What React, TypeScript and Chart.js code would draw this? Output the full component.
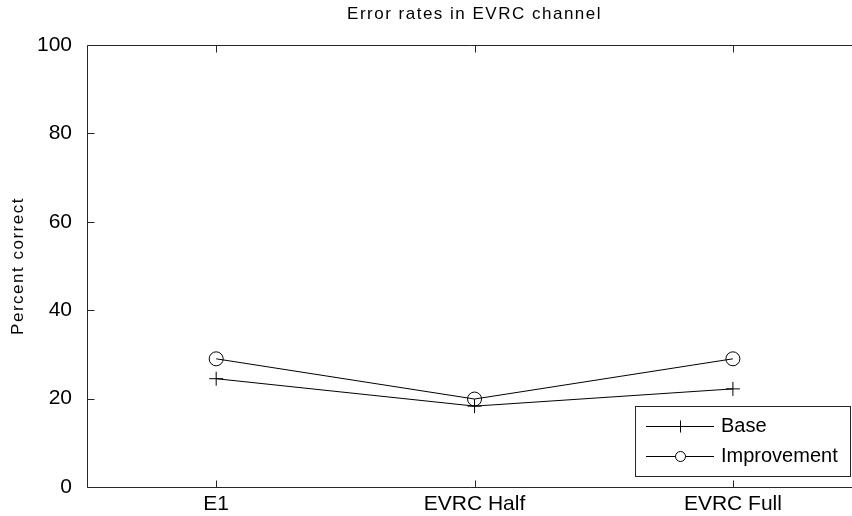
import React, { useEffect, useRef } from "react";
import { Chart, registerables } from "chart.js";

Chart.register(...registerables);

const categories = ["E1", "EVRC Half", "EVRC Full"];
const baseValues = [24.5, 18.3, 22.2];
const improvementValues = [29.0, 19.9, 29.0];
const yTicks = [0, 20, 40, 60, 80, 100];
const seriesLabels = ["Base", "Improvement"];
const titleText = "Error rates in EVRC channel";
const yLabel = "Percent correct";

// axis limits (MATLAB style: 0.5 .. 3.5, right part cropped by the picture edge)
const X_MIN = 0.5;
const X_FULL_MAX = 3.5;
const X_VISIBLE_MAX = 3.461;

const FONT = "'Liberation Sans', Arial, sans-serif";
const AXIS_COLOR = "#262626";

const framePlugin = {
  id: "frame",
  afterDraw(chart: any) {
    const { ctx, chartArea: a, scales } = chart;
    const xs = scales.x;
    const ys = scales.y;
    const L = a.left + 0.5, T = a.top + 0.5, B = a.bottom + 0.5;
    const R = Math.round(xs.getPixelForValue(X_FULL_MAX)) - 0.5;
    const tl = 7;
    ctx.save();
    ctx.strokeStyle = AXIS_COLOR;
    ctx.lineWidth = 1;
    ctx.beginPath();
    ctx.moveTo(R, T); ctx.lineTo(L, T); ctx.lineTo(L, B); ctx.lineTo(R, B); ctx.lineTo(R, T);
    ys.ticks.forEach((t: any) => {
      const p = Math.round(ys.getPixelForValue(t.value)) + 0.5;
      ctx.moveTo(L, p); ctx.lineTo(L + tl, p);
      ctx.moveTo(R, p); ctx.lineTo(R - tl, p);
    });
    xs.ticks.forEach((t: any) => {
      const p = Math.round(xs.getPixelForValue(t.value)) + 0.5;
      ctx.moveTo(p, B); ctx.lineTo(p, B - tl);
      ctx.moveTo(p, T); ctx.lineTo(p, T + tl);
    });
    ctx.stroke();
    ctx.restore();
  },
};

const labelsPlugin = {
  id: "labels",
  afterDraw(chart: any) {
    const { ctx, chartArea: a, scales } = chart;
    const xs = scales.x;
    const cx = (xs.getPixelForValue(X_MIN) + xs.getPixelForValue(X_FULL_MAX)) / 2;
    ctx.save();
    ctx.fillStyle = "#000000";
    ctx.font = `17px ${FONT}`;
    try { (ctx as any).letterSpacing = "1.5px"; } catch (e) {}
    ctx.textAlign = "center";
    ctx.textBaseline = "middle";
    ctx.fillText(titleText, cx, 14);
    ctx.translate(18, (a.top + a.bottom) / 2);
    ctx.rotate(-Math.PI / 2);
    ctx.fillText(yLabel, 0, 0);
    ctx.restore();
  },
};

const legendPlugin = {
  id: "matlabLegend",
  afterDatasetsDraw(chart: any) {
    const { ctx, chartArea: a, scales } = chart;
    const ds = chart.data.datasets;
    ctx.save();
    ctx.font = `20px ${FONT}`;
    const textW = Math.max(...ds.map((d: any) => ctx.measureText(d.label).width));
    const w = Math.round(86 + textW + 13);
    const h = 71;
    const right = Math.round(scales.x.getPixelForValue(X_FULL_MAX)) - 11;
    const bottom = a.bottom - 10;
    const left = right - w;
    const top = bottom - h;
    ctx.fillStyle = "#ffffff";
    ctx.fillRect(left, top, w, h);
    ctx.strokeStyle = AXIS_COLOR;
    ctx.lineWidth = 1;
    ctx.strokeRect(left + 0.5, top + 0.5, w - 1, h - 1);
    ds.forEach((d: any, i: number) => {
      const y = top + 20 + i * 30 + 0.5;
      ctx.strokeStyle = d.borderColor;
      ctx.lineWidth = 1;
      ctx.beginPath();
      ctx.moveTo(left + 11, y);
      ctx.lineTo(left + 79, y);
      ctx.stroke();
      const mx = left + 45.5;
      ctx.beginPath();
      if (d.pointStyle === "cross") {
        ctx.moveTo(mx - 6, y); ctx.lineTo(mx + 6, y);
        ctx.moveTo(mx, y - 6); ctx.lineTo(mx, y + 6);
      } else {
        ctx.arc(mx, y, 5, 0, Math.PI * 2);
        ctx.fillStyle = "#ffffff";
        ctx.fill();
      }
      ctx.stroke();
      ctx.fillStyle = "#000000";
      ctx.textBaseline = "middle";
      ctx.textAlign = "left";
      ctx.fillText(d.label, left + 86, y);
    });
    ctx.restore();
  },
};

export default function App() {
  const ref = useRef<HTMLCanvasElement | null>(null);
  useEffect(() => {
    if (!ref.current) return;
    const chart = new Chart(ref.current, {
      type: "line",
      data: {
        datasets: [
          {
            label: seriesLabels[0],
            data: baseValues.map((v, i) => ({ x: i + 1, y: v })),
            borderColor: "#000000",
            borderWidth: 1,
            pointStyle: "cross",
            pointRadius: 7,
            pointBorderWidth: 1,
            pointBorderColor: "#000000",
            pointBackgroundColor: "rgba(0,0,0,0)",
            tension: 0,
            fill: false,
          },
          {
            label: seriesLabels[1],
            data: improvementValues.map((v, i) => ({ x: i + 1, y: v })),
            borderColor: "#000000",
            borderWidth: 1,
            pointStyle: "circle",
            pointRadius: 7,
            pointBorderWidth: 1,
            pointBorderColor: "#000000",
            pointBackgroundColor: "rgba(0,0,0,0)",
            tension: 0,
            fill: false,
          },
        ],
      },
      options: {
        animation: false,
        responsive: false,
        maintainAspectRatio: false,
        layout: { autoPadding: false, padding: { top: 45, right: 0, left: 0, bottom: 0 } },
        plugins: {
          legend: { display: false },
          tooltip: { enabled: false },
          title: { display: false },
        },
        scales: {
          x: {
            type: "linear",
            min: X_MIN,
            max: X_VISIBLE_MAX,
            grid: { display: false },
            border: { display: false },
            afterBuildTicks(scale: any) {
              scale.ticks = categories.map((_c, i) => ({ value: i + 1 }));
            },
            ticks: {
              color: "#000000",
              font: { family: FONT, size: 21 },
              padding: -3,
              maxRotation: 0,
              autoSkip: false,
              callback: (v: any) => categories[Math.round(Number(v)) - 1] ?? "",
            },
            afterFit(scale: any) {
              scale.height = 29;
            },
          },
          y: {
            min: 0,
            max: 100,
            grid: { display: false },
            border: { display: false },
            afterBuildTicks(scale: any) {
              scale.ticks = yTicks.map((v) => ({ value: v }));
            },
            ticks: {
              color: "#000000",
              font: { family: FONT, size: 21 },
              padding: 7,
            },
            afterFit(scale: any) {
              scale.width = 87;
            },
          },
        },
      },
      plugins: [legendPlugin, framePlugin, labelsPlugin],
    });
    return () => chart.destroy();
  }, []);
  return (
    <div
      style={{
        position: "fixed",
        left: 0,
        top: 0,
        width: 852,
        height: 516,
        overflow: "hidden",
        background: "#ffffff",
      }}
    >
      <canvas ref={ref} width={852} height={516} style={{ display: "block", width: 852, height: 516 }} />
    </div>
  );
}
